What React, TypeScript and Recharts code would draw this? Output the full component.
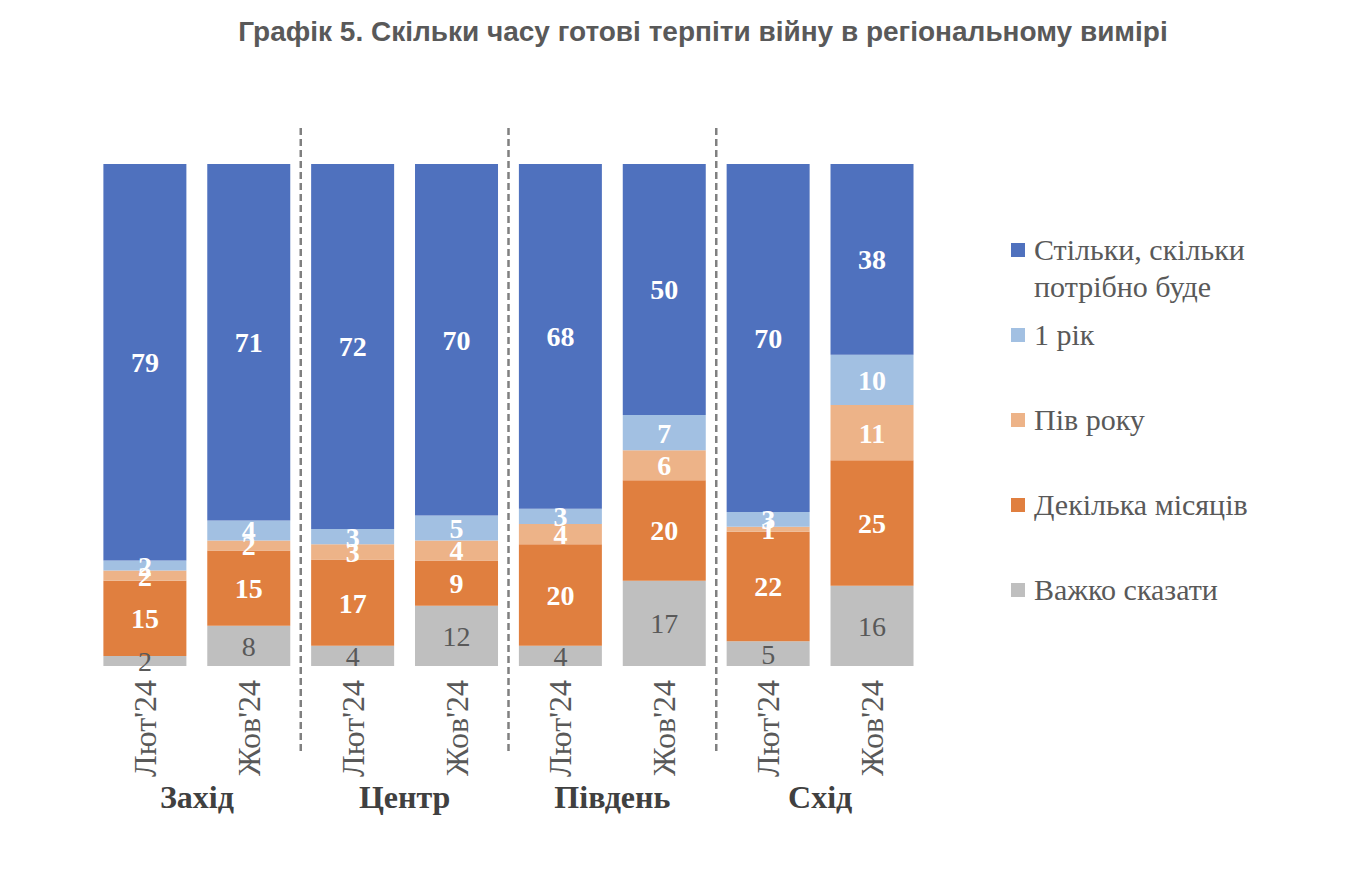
import React from "react";
import { BarChart, Bar, XAxis, YAxis, Legend, LabelList } from "recharts";

const periods = ["Лют'24", "Жов'24", "Лют'24", "Жов'24", "Лют'24", "Жов'24", "Лют'24", "Жов'24"];
const regions = ["Захід", "Центр", "Південь", "Схід"];

// bottom to top
const hardToSay = [2, 8, 4, 12, 4, 17, 5, 16];
const fewMonths = [15, 15, 17, 9, 20, 20, 22, 25];
const halfYear = [2, 2, 3, 4, 4, 6, 1, 11];
const oneYear = [2, 4, 3, 5, 3, 7, 3, 10];
const asLongAs = [79, 71, 72, 70, 68, 50, 70, 38];

const series = [
  { key: "hard", name: "Важко сказати", color: "#bfbfbf", labelColor: "#595959", bold: false },
  { key: "months", name: "Декілька місяців", color: "#e07f3f", labelColor: "#ffffff", bold: true },
  { key: "half", name: "Пів року", color: "#edb388", labelColor: "#ffffff", bold: true },
  { key: "year", name: "1 рік", color: "#a2c0e2", labelColor: "#ffffff", bold: true },
  { key: "long", name: "Стільки, скільки потрібно буде", color: "#4f71be", labelColor: "#ffffff", bold: true },
];

const data = periods.map((p, i) => ({
  id: `${regions[Math.floor(i / 2)]} ${p}`,
  period: p,
  region: regions[Math.floor(i / 2)],
  hard: hardToSay[i],
  months: fewMonths[i],
  half: halfYear[i],
  year: oneYear[i],
  long: asLongAs[i],
}));

const serif = "'Liberation Serif', 'Times New Roman', serif";
const textGray = "#595959";

function PeriodTick(props: any) {
  const { x, y, payload } = props;
  const i = payload.index;
  const row = data[i];
  const half = payload.offset || 0;
  return (
    <g>
      <text
        x={x}
        y={y + 14}
        transform={`rotate(-90 ${x} ${y + 14})`}
        textAnchor="end"
        dominantBaseline="central"
        fontFamily={serif}
        fontSize={32}
        fill={textGray}
      >
        {row.period}
      </text>
      {i % 2 === 1 && (
        <text
          x={x - half}
          y={y + 131}
          textAnchor="middle"
          dominantBaseline="central"
          fontFamily={serif}
          fontSize={32}
          fontWeight="bold"
          fill="#404040"
        >
          {row.region}
        </text>
      )}
      {i % 2 === 1 && i < data.length - 1 && (
        <line
          x1={x + half}
          x2={x + half}
          y1={y - 538}
          y2={y + 86}
          stroke="#808080"
          strokeWidth={2.5}
          strokeDasharray="7 4"
        />
      )}
    </g>
  );
}

function LegendBox() {
  const items = [...series].reverse();
  return (
    <div style={{ fontFamily: serif, fontSize: 30, color: textGray, lineHeight: "37px" }}>
      {items.map((it) => (
        <div key={it.key} style={{ height: 85, display: "flex", alignItems: "flex-start" }}>
          <span
            style={{ width: 14, height: 14, background: it.color, marginTop: 12, marginRight: 9, flex: "0 0 auto" }}
          />
          <span style={{ width: 230 }}>{it.name}</span>
        </div>
      ))}
    </div>
  );
}

export default function App() {
  return (
    <div style={{ position: "absolute", left: 0, top: 0, width: 1354, height: 876, background: "#fff" }}>
      <div
        style={{
          position: "absolute",
          left: 0,
          top: 16,
          width: 1406,
          textAlign: "center",
          fontFamily: "'Liberation Sans', Arial, sans-serif",
          fontWeight: "bold",
          fontSize: 28,
          color: "#595959",
        }}
      >
        Графік 5. Скільки часу готові терпіти війну в регіональному вимірі
      </div>
      <BarChart
        width={1354}
        height={876}
        data={data}
        stackOffset="expand"
        barCategoryGap="10%"
        margin={{ top: 164, right: 430, bottom: 180, left: 93 }}
      >
        <XAxis
          dataKey="id"
          height={30}
          axisLine={false}
          tickLine={false}
          tickSize={0}
          tickMargin={0}
          interval={0}
          tick={<PeriodTick />}
        />
        <YAxis hide domain={[0, 1]} />
        <Legend
          layout="vertical"
          align="center"
          verticalAlign="middle"
          content={<LegendBox />}
          wrapperStyle={{ position: "absolute", left: 1011, top: 231, width: 300, height: 430 }}
        />
        {series.map((s) => (
          <Bar key={s.key} dataKey={s.key} name={s.name} stackId="a" fill={s.color} isAnimationActive={false}>
            <LabelList
              dataKey={s.key}
              position="center"
              fill={s.labelColor}
              fontFamily={serif}
              fontSize={28}
              fontWeight={s.bold ? "bold" : "normal"}
            />
          </Bar>
        ))}
      </BarChart>
    </div>
  );
}
